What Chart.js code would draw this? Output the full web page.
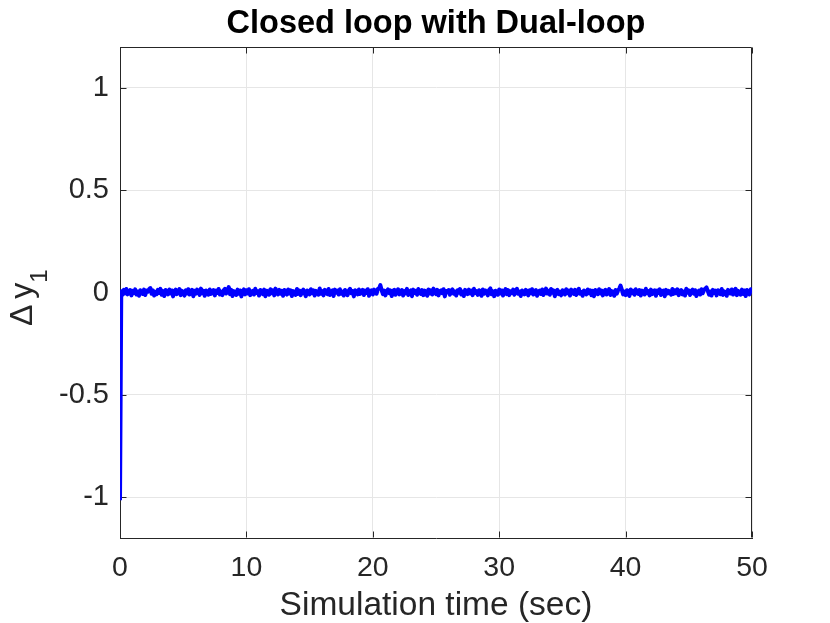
<!DOCTYPE html>
<html>
<head>
<meta charset="utf-8">
<script src="https://cdn.jsdelivr.net/npm/chart.js@4.4.1/dist/chart.umd.min.js"></script>
<style>
  html, body { margin: 0; padding: 0; background: #ffffff; }
  canvas { display: block; }
</style>
</head>
<body>
<canvas id="dualLoop" width="830" height="623"></canvas>
<script>
// Closed loop with Dual-loop: output deviation after the initial step

const xTicks = [0, 10, 20, 30, 40, 50];
const yTicks = [-1, -0.5, 0, 0.5, 1];
const timeStep = 0.1; // sample spacing of dy1, seconds

const dy1 = [
    -1.015, 0.006, -0.011, 0.013, -0.004, 0.017, -0.009, 0.002, 0.012, -0.014,
    0.008, -0.003, 0.015, -0.010, 0.005, -0.016, 0.011, 0.001, -0.007, 0.014,
    -0.012, 0.009, 0.004, 0.016, 0.022, -0.006, 0.010, -0.015, 0.003, -0.008,
    0.013, -0.002, 0.018, -0.011, 0.007, -0.017, 0.012, 0.000, -0.009, 0.015,
    -0.005, 0.010, -0.019, 0.006, 0.014, -0.008, 0.003, 0.017, -0.013, 0.008,
    0.001, -0.015, 0.011, -0.004, 0.016, -0.010, 0.005, 0.013, -0.018, 0.009,
    -0.006, 0.014, 0.002, -0.012, 0.019, -0.003, 0.008, -0.016, 0.010, 0.004,
    -0.011, 0.015, -0.007, 0.006, 0.012, -0.014, 0.009, -0.002, 0.017, -0.010,
    0.005, -0.013, 0.011, 0.018, -0.005, 0.009, 0.026, -0.008, 0.013, -0.017,
    0.007, 0.002, -0.012, 0.014, -0.006, 0.010, -0.019, 0.004, 0.015, -0.009,
    0.011, -0.004, 0.016, -0.013, 0.003, 0.008, -0.010, 0.018, -0.002, 0.006,
    -0.015, 0.012, 0.001, -0.008, 0.014, -0.018, 0.009, 0.005, -0.011, 0.016,
    -0.003, 0.010, -0.014, 0.019, 0.004, -0.009, 0.013, -0.006, 0.008, -0.016,
    0.012, 0.000, -0.010, 0.015, -0.005, 0.011, -0.017, 0.007, 0.003, -0.012,
    0.017, -0.007, 0.009, -0.013, 0.006, 0.014, -0.002, -0.018, 0.010, 0.004,
    -0.009, 0.016, -0.004, 0.011, -0.015, 0.008, 0.002, -0.011, 0.020, -0.006,
    0.007, -0.014, 0.013, 0.003, -0.008, 0.017, -0.012, 0.005, 0.010, -0.017,
    0.014, -0.001, 0.009, -0.010, 0.016, -0.006, 0.004, -0.015, 0.012, 0.001,
    -0.013, 0.010, 0.018, -0.004, 0.007, -0.019, 0.011, 0.006, -0.009, 0.015,
    -0.007, 0.003, 0.013, -0.012, 0.009, -0.002, 0.016, -0.016, 0.005, 0.011,
    -0.010, 0.014, 0.002, -0.006, 0.017, 0.021, 0.036, 0.012, -0.008, 0.009,
    -0.014, 0.006, 0.015, -0.003, 0.010, -0.017, 0.008, 0.013, -0.011, 0.004,
    0.016, -0.009, 0.001, 0.012, -0.015, 0.007, -0.004, 0.018, -0.012, 0.005,
    0.010, -0.018, 0.014, -0.002, 0.008, -0.011, 0.017, 0.003, -0.007, 0.012,
    -0.013, 0.009, 0.004, -0.016, 0.015, -0.005, 0.011, -0.010, 0.019, 0.000,
    -0.008, 0.013, -0.014, 0.006, 0.010, -0.003, 0.016, -0.019, 0.007, 0.002,
    0.012, -0.011, 0.008, 0.015, -0.006, 0.004, -0.015, 0.011, -0.001, 0.017,
    -0.010, 0.005, -0.017, 0.013, 0.002, -0.008, 0.014, -0.004, 0.009, -0.013,
    0.018, -0.002, 0.007, -0.012, 0.011, 0.003, -0.016, 0.015, -0.006, 0.010,
    0.004, -0.014, 0.012, 0.020, -0.009, 0.006, -0.018, 0.009, 0.001, -0.011,
    0.015, -0.005, 0.010, -0.015, 0.003, 0.017, -0.008, 0.012, -0.013, 0.006,
    -0.002, 0.014, -0.011, 0.008, 0.018, -0.006, 0.004, -0.017, 0.010, 0.001,
    -0.009, 0.013, 0.006, -0.014, 0.011, -0.003, 0.016, -0.010, 0.007, 0.012,
    -0.016, 0.004, 0.009, -0.007, 0.015, -0.012, 0.002, 0.019, -0.005, 0.008,
    -0.011, 0.017, -0.001, 0.010, -0.018, 0.006, 0.013, -0.008, 0.003, -0.014,
    0.011, 0.005, -0.010, 0.016, -0.004, 0.009, -0.015, 0.014, 0.000, -0.007,
    0.013, -0.012, 0.007, 0.018, -0.006, 0.002, -0.016, 0.010, 0.005, -0.009,
    0.015, -0.003, 0.011, -0.013, 0.008, -0.018, 0.012, 0.004, -0.008, 0.016,
    -0.005, 0.009, -0.014, 0.006, 0.013, -0.010, 0.001, 0.017, -0.012, 0.007,
    0.003, -0.016, 0.012, -0.006, 0.010, 0.019, 0.034, 0.014, -0.009, 0.005,
    -0.013, 0.011, 0.002, -0.017, 0.015, -0.004, 0.008, -0.011, 0.016, 0.000,
    -0.007, 0.012, -0.015, 0.009, 0.004, -0.010, 0.018, -0.003, 0.007, -0.014,
    0.014, -0.008, 0.005, 0.011, -0.016, 0.010, -0.002, 0.015, -0.012, 0.006,
    0.009, -0.018, 0.013, -0.005, 0.008, 0.002, -0.011, 0.017, -0.007, 0.011,
    -0.003, 0.015, -0.013, 0.006, 0.012, -0.009, 0.004, -0.015, 0.018, -0.001,
    0.010, -0.012, 0.007, 0.014, -0.006, 0.011, -0.017, 0.003, 0.009, -0.010,
    0.016, -0.004, 0.012, 0.019, 0.025, 0.008, -0.011, 0.005, -0.015, 0.013,
    -0.002, 0.009, -0.014, 0.011, 0.004, -0.008, 0.017, -0.012, 0.006, 0.001,
    -0.016, 0.013, 0.007, -0.005, 0.015, -0.010, 0.003, 0.018, -0.013, 0.008,
    0.002, -0.011, 0.014, -0.007, 0.010, -0.017, 0.012, 0.005, -0.009, 0.016,
    -0.004
];

const FONT = "'Liberation Sans', Arial, Helvetica, sans-serif";
const AXIS_COLOR = '#262626';

// MATLAB style box: top/right edges plus inward ticks on all four sides
const boxPlugin = {
    id: 'matlabBox',
    beforeDatasetsDraw(chart) {
        const {ctx, chartArea} = chart;
        const {x, y} = chart.scales;
        const l = Math.round(chartArea.left) + 0.5;
        const r = Math.round(chartArea.right) - 0.5;
        const t = Math.round(chartArea.top) + 0.5;
        const b = Math.round(chartArea.bottom) - 0.5;
        const len = 6;
        ctx.save();
        ctx.strokeStyle = AXIS_COLOR;
        ctx.lineWidth = 1;
        ctx.beginPath();
        ctx.moveTo(l, t);
        ctx.lineTo(r, t);
        ctx.lineTo(r, b);
        xTicks.forEach(v => {
            const px = Math.round(x.getPixelForValue(v)) + 0.5;
            ctx.moveTo(px, b); ctx.lineTo(px, b - len);
            ctx.moveTo(px, t); ctx.lineTo(px, t + len);
        });
        yTicks.forEach(v => {
            const py = Math.round(y.getPixelForValue(v)) + 0.5;
            ctx.moveTo(l, py); ctx.lineTo(l + len, py);
            ctx.moveTo(r, py); ctx.lineTo(r - len, py);
        });
        ctx.stroke();
        ctx.restore();
    }
};

// y label "Δ y" with subscript 1, drawn rotated like MATLAB's tex label
const yLabelPlugin = {
    id: 'yLabel',
    afterDraw(chart) {
        const {ctx} = chart;
        ctx.save();
        ctx.translate(32, 326);
        ctx.rotate(-Math.PI / 2);
        ctx.fillStyle = AXIS_COLOR;
        ctx.textAlign = 'left';
        ctx.textBaseline = 'alphabetic';
        ctx.font = '32px ' + FONT;
        ctx.fillText('\u0394', 0, 0);
        const yPos = ctx.measureText('\u0394 ').width - 3;
        ctx.fillText('y', yPos, 0);
        const w = yPos + ctx.measureText('y').width;
        ctx.font = '24px ' + FONT;
        ctx.fillText('1', w, 15);
        ctx.restore();
    }
};

const ctx = document.getElementById('dualLoop').getContext('2d');
new Chart(ctx, {
    type: 'line',
    data: {
        datasets: [{
            data: dy1.map((v, i) => ({ x: i * timeStep, y: v })),
            borderColor: '#0000ff',
            borderWidth: 4,
            borderJoinStyle: 'round',
            borderCapStyle: 'butt',
            pointRadius: 0,
            tension: 0,
            fill: false
        }]
    },
    options: {
        responsive: false,
        animation: false,
        layout: { padding: { left: 0, right: 78, top: 0, bottom: 0 } },
        plugins: {
            legend: { display: false },
            tooltip: { enabled: false },
            title: {
                display: true,
                text: 'Closed loop with Dual-loop',
                color: '#000000',
                fullSize: false,
                font: { family: FONT, size: 32.5, weight: 'bold', lineHeight: 1.2 },
                padding: { top: 5, bottom: 3 }
            }
        },
        scales: {
            x: {
                type: 'linear',
                min: 0,
                max: 50,
                afterBuildTicks: s => { s.ticks = xTicks.map(v => ({ value: v })); },
                afterFit: s => { s.height = 85; },
                grid: { color: '#e6e6e6', drawTicks: false },
                border: { color: AXIS_COLOR, width: 1 },
                ticks: { font: { family: FONT, size: 28.5 }, color: AXIS_COLOR, padding: 13, maxRotation: 0 },
                title: {
                    display: true,
                    text: 'Simulation time (sec)',
                    color: AXIS_COLOR,
                    font: { family: FONT, size: 33.5, lineHeight: 1.0 },
                    padding: 0
                }
            },
            y: {
                type: 'linear',
                min: -1.2,
                max: 1.2,
                afterBuildTicks: s => { s.ticks = yTicks.map(v => ({ value: v })); },
                afterFit: s => { s.width = 120; },
                grid: { color: '#e6e6e6', drawTicks: false },
                border: { color: AXIS_COLOR, width: 1 },
                ticks: { font: { family: FONT, size: 29 }, color: AXIS_COLOR, padding: 11, callback: v => String(v) }
            }
        }
    },
    plugins: [boxPlugin, yLabelPlugin]
});
</script>
</body>
</html>
